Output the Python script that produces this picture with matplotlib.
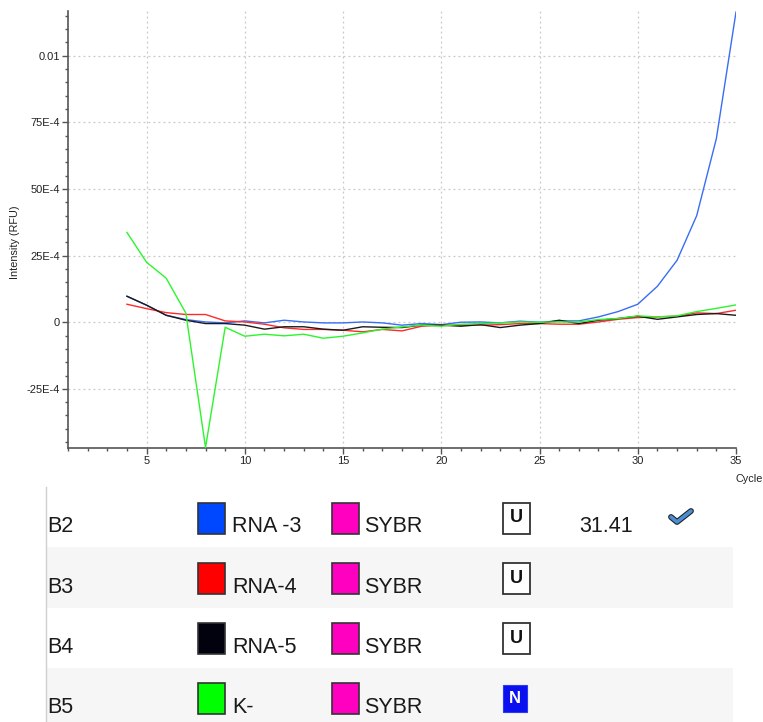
import matplotlib
matplotlib.use("Agg")
import matplotlib.pyplot as plt
import matplotlib.patheffects as pe
from matplotlib.patches import Rectangle
from matplotlib.ticker import FixedLocator, MultipleLocator, FixedFormatter

plt.rcParams['font.family'] = ['Liberation Sans', 'DejaVu Sans']

# Amplification curves, intensity in units of 1E-4 RFU
cycles = list(range(4, 36))
rna3 = [9.75, 6.4, 2.6, 1.0, 0.1, -0.25, 0.5, -0.25, 0.75, 0.1, -0.25, -0.25, 0.1, -0.25,
        -1.1, -0.5, -0.9, 0.0, 0.1, -0.25, 0.4, 0.0, 0.5, 0.5, 2.0, 4.0, 6.75, 13.5, 23.25,
        40.0, 68.9, 116.4]
rna4 = [6.75, 5.1, 3.6, 2.9, 2.9, 0.5, 0.1, -0.75, -2.1, -2.7, -2.7, -3.0, -3.6, -2.7,
        -3.25, -1.5, -1.1, -1.1, -1.1, -0.9, -0.5, -0.5, -0.75, -0.75, 0.1, 1.1, 1.75, 2.0,
        2.25, 3.5, 3.25, 4.5]
rna5 = [9.75, 6.4, 2.6, 0.75, -0.5, -0.5, -1.1, -2.6, -1.7, -1.7, -2.6, -3.0, -1.7, -1.9,
        -2.0, -1.1, -1.1, -1.5, -0.9, -2.0, -1.1, -0.5, 0.75, -0.5, 0.75, 1.4, 2.25, 1.1,
        2.0, 2.9, 3.25, 2.6]
kneg = [33.7, 22.5, 16.5, 3.4, -47.0, -1.9, -5.25, -4.5, -5.1, -4.5, -6.0, -5.25, -4.0,
        -2.6, -1.75, -1.1, -1.5, -0.75, -0.5, -0.25, 0.1, 0.0, 0.1, 0.1, 1.0, 1.4, 2.4, 2.0,
        2.4, 4.0, 5.2, 6.5]

y_ticks = [-25e-4, 0, 25e-4, 50e-4, 75e-4, 100e-4]
y_tick_labels = ["-25E-4", "0", "25E-4", "50E-4", "75E-4", "0.01"]
x_ticks = [5, 10, 15, 20, 25, 30, 35]

# Well table
wells = ["B2", "B3", "B4", "B5"]
samples = ["RNA -3", "RNA-4", "RNA-5", "K-"]
dyes = ["SYBR", "SYBR", "SYBR", "SYBR"]
sample_types = ["U", "U", "U", "N"]
cq_values = ["31.41", "", "", ""]

curve_colors = ["#3a6df5", "#ff2a2a", "#1a1a1a", "#2cf52c"]
swatch_colors = ["#0048ff", "#ff0000", "#02020e", "#00ff00"]
dye_color = "#ff00c0"

W, H = 763, 722
fig = plt.figure(figsize=(W / 100, H / 100), dpi=100)

ax = fig.add_axes([68 / W, (H - 448) / H, (736 - 68) / W, (448 - 11) / H])
series = [rna3, rna4, rna5, kneg]
for vals, col in zip(series, curve_colors):
    ax.plot(cycles, [v * 1e-4 for v in vals], color=col, lw=1.0, zorder=3)

ax.set_xlim(1, 35)
ax.set_ylim(-47.2e-4, 116.8e-4)
ax.xaxis.set_major_locator(FixedLocator(x_ticks))
ax.xaxis.set_minor_locator(MultipleLocator(1))
ax.yaxis.set_major_locator(FixedLocator(y_ticks))
ax.yaxis.set_major_formatter(FixedFormatter(y_tick_labels))
ax.yaxis.set_minor_locator(MultipleLocator(5e-4))
ax.tick_params(which='major', length=4, width=1, color='#555555', labelsize=8,
               labelcolor='#222222', pad=2)
ax.tick_params(which='minor', length=2.5, width=1, color='#555555')
for s in ['top', 'right']:
    ax.spines[s].set_visible(False)
for s in ['left', 'bottom']:
    ax.spines[s].set_color('#555555')
    ax.spines[s].set_linewidth(1.2)
ax.grid(True, which='major', color='#c8c8c8', linestyle=(0, (1.5, 2.5)), lw=0.9)
ax.xaxis.get_gridlines()[-1].set_visible(False)

fig.text(15 / W, 1 - 242 / H, "Intensity (RFU)", rotation=90, ha='center', va='center',
         fontsize=7.8, color='#222222')
fig.text(763 / W, 1 - 479 / H, "Cycle", ha='right', va='center', fontsize=7.8,
         color='#222222')

# Table overlay in pixel coordinates
tab = fig.add_axes([0, 0, 1, 1], zorder=-1)
tab.set_xlim(0, W)
tab.set_ylim(H, 0)
tab.axis('off')
tab.patch.set_alpha(0)

row_top0 = 487
row_h = 60.3
tab.plot([46, 46], [row_top0, H], color='#cfcfcf', lw=1)
for i, well in enumerate(wells):
    top = row_top0 + i * row_h
    if i % 2 == 1:
        tab.add_patch(Rectangle((47, top), 733 - 47, row_h, facecolor='#f6f6f6',
                                edgecolor='none'))
    base = top + 45.5
    tab.text(47, base, well, fontsize=15.5, ha='left', va='baseline', color='#1a1a1a')
    tab.add_patch(Rectangle((198, top + 15.5), 27, 31, facecolor=swatch_colors[i],
                            edgecolor='#333333', lw=1.2))
    tab.text(232, base, samples[i], fontsize=15.5, ha='left', va='baseline',
             color='#1a1a1a')
    tab.add_patch(Rectangle((332, top + 15.5), 27, 31, facecolor=dye_color,
                            edgecolor='#333333', lw=1.2))
    tab.text(364, base, dyes[i], fontsize=15.5, ha='left', va='baseline', color='#1a1a1a')
    if sample_types[i] == "U":
        tab.add_patch(Rectangle((502.5, top + 15.5), 27, 31, facecolor='white',
                                edgecolor='#333333', lw=1.3))
        tab.text(516, top + 31, "U", fontsize=13, fontweight='bold', ha='center',
                 va='center', color='#111111')
    else:
        tab.add_patch(Rectangle((503, top + 17.5), 24, 27, facecolor='#0a10f0',
                                edgecolor='#2a3af5', lw=0.8))
        tab.text(515, top + 31, "N", fontsize=12, fontweight='bold', ha='center',
                 va='center', color='white')
    if cq_values[i]:
        tab.text(579, base, cq_values[i], fontsize=15.5, ha='left', va='baseline',
                 color='#1a1a1a')
        tab.plot([671, 677, 691], [top + 30, top + 35, top + 24], color='#4a8fd6',
                 lw=2.6, solid_capstyle='round', solid_joinstyle='round',
                 path_effects=[pe.Stroke(linewidth=4.2, foreground='#222222'), pe.Normal()])

fig.savefig("out.png", dpi=100)
